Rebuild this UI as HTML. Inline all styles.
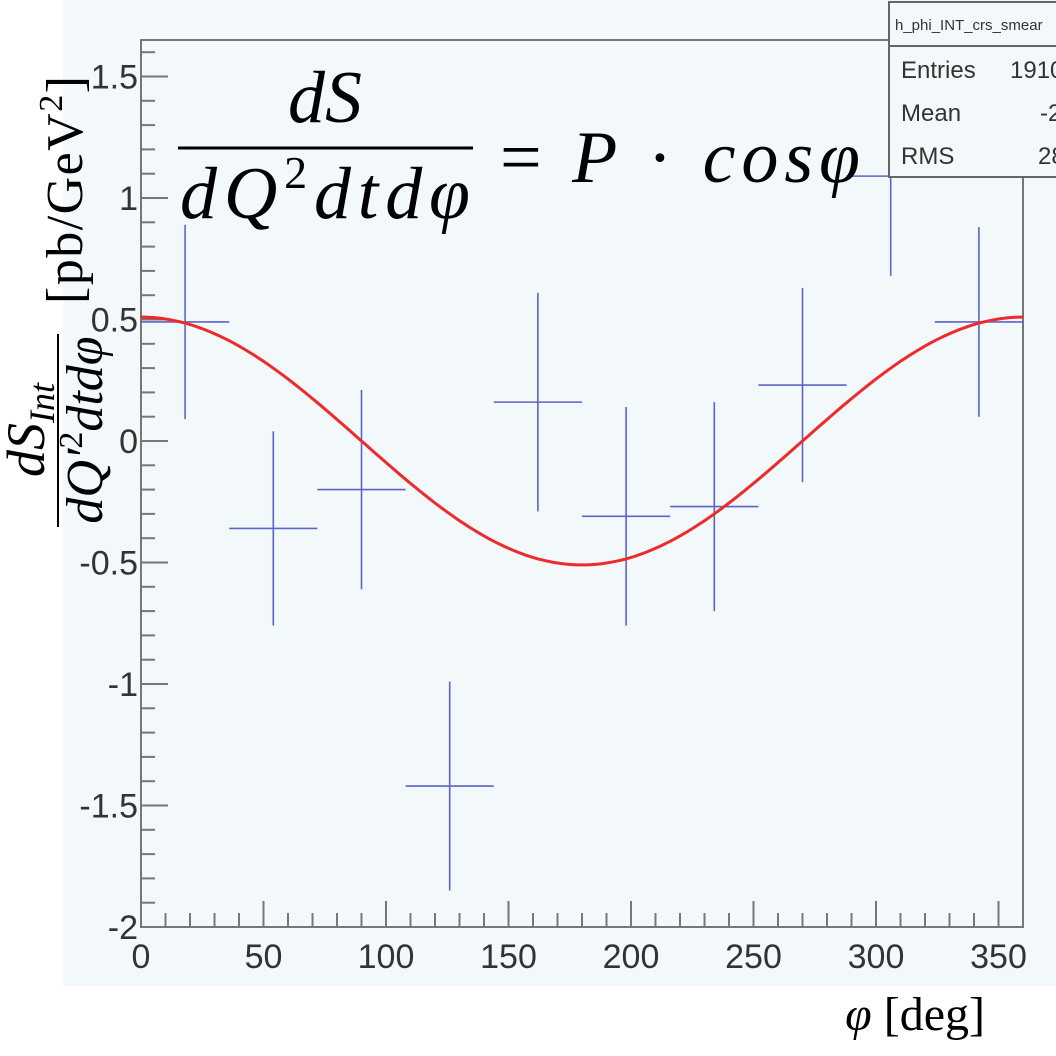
<!DOCTYPE html>
<html><head><meta charset="utf-8"><style>
html,body{margin:0;padding:0;background:#fff;width:1056px;height:1056px;overflow:hidden}
svg{display:block}
.tk{font-family:"Liberation Sans",sans-serif;font-size:34px;fill:#333}
.m{font-family:"Liberation Serif","DejaVu Serif",serif;fill:#000}
</style></head><body>
<svg id="chart" width="1056" height="1056" viewBox="0 0 1056 1056">
<rect x="63" y="0" width="993" height="986" fill="#f3f8fb"/>
<rect x="141" y="40" width="882" height="887" fill="none" stroke="#777" stroke-width="2"/>
<g id="axes"></g>
<g id="marks"></g>
<g>
<rect x="889" y="2" width="170" height="175" fill="#f3f8fb" stroke="#666" stroke-width="2"/>
<line x1="889" y1="46" x2="1056" y2="46" stroke="#666" stroke-width="2"/>
<text x="895" y="30" font-family="Liberation Sans,sans-serif" font-size="15" fill="#333">h_phi_INT_crs_smear</text>
<text x="901" y="78" font-family="Liberation Sans,sans-serif" font-size="24" fill="#333">Entries</text>
<text x="1010" y="78" font-family="Liberation Sans,sans-serif" font-size="24" fill="#333">1910</text>
<text x="901" y="121" font-family="Liberation Sans,sans-serif" font-size="24" fill="#333">Mean</text>
<text x="1040" y="121" font-family="Liberation Sans,sans-serif" font-size="24" fill="#333">-2</text>
<text x="901" y="164" font-family="Liberation Sans,sans-serif" font-size="24" fill="#333">RMS</text>
<text x="1038" y="164" font-family="Liberation Sans,sans-serif" font-size="24" fill="#333">28</text>
</g>
<g>
<text x="325" y="122" text-anchor="middle" class="m" font-size="74" font-style="italic">dS</text>
<line x1="178" y1="148" x2="473" y2="148" stroke="#000" stroke-width="3"/>
<text x="325" y="218" text-anchor="middle" class="m" font-size="74" font-style="italic" textLength="290">dQ<tspan font-size="46" dy="-30" font-style="normal">2</tspan><tspan dy="30">dtdφ</tspan></text>
<text x="500" y="182" class="m" font-size="74" textLength="360">= <tspan font-style="italic">P</tspan> · <tspan font-style="italic">cosφ</tspan></text>
</g>
<g>
<text transform="translate(44,430) rotate(-90)" text-anchor="middle" class="m" font-size="54" font-style="italic">dS<tspan font-size="36" dy="10">Int</tspan></text>
<line x1="58" y1="334" x2="58" y2="527" stroke="#000" stroke-width="2"/>
<text transform="translate(102,430) rotate(-90)" text-anchor="middle" class="m" font-size="52" font-style="italic">dQ′<tspan font-size="34" dy="-20" font-style="normal">2</tspan><tspan dy="20">dtdφ</tspan></text>
<text transform="translate(82,190) rotate(-90)" text-anchor="middle" class="m" font-size="52" textLength="228">[pb/GeV<tspan font-size="34" dy="-20">2</tspan><tspan dy="20">]</tspan></text>
</g>
<text x="985" y="1030" text-anchor="end" class="m" font-size="48"><tspan font-style="italic">φ</tspan> [deg]</text>
</svg>
<script>
const binCenters=[18,54,90,126,162,198,234,270,306,342];
const binValues=[0.49,-0.36,-0.20,-1.42,0.16,-0.31,-0.27,0.23,1.09,0.49];
const binErrors=[0.40,0.40,0.41,0.43,0.45,0.45,0.43,0.40,0.41,0.39];
const binHalfWidth=[18,18,18,18,18,18,18,18,18,18];
const fitAmplitude=[0.51];
const xTicks=[0,50,100,150,200,250,300,350];
const yTicks=[-2,-1.5,-1,-0.5,0,0.5,1,1.5];
const yTickLabels=["-2","-1.5","-1","-0.5","0","0.5","1","1.5"];
const X0=141,X1=1023,Y0=927,Y1=40,xmin=0,xmax=360;
function sx(v){return X0+(v-xmin)/(xmax-xmin)*(X1-X0);}
function sy(v){return 441-243*v;}
const NS="http://www.w3.org/2000/svg";
function mk(tag,at,parent){const e=document.createElementNS(NS,tag);for(const k in at)e.setAttribute(k,at[k]);parent.appendChild(e);return e;}
const axes=document.getElementById('axes'),marks=document.getElementById('marks');
for(let v=0;v<=360;v+=10){const major=v%50===0;const t=mk('line',{x1:sx(v),x2:sx(v),y1:Y0,y2:Y0-(major?26:14),stroke:'#777','stroke-width':2},axes);

}
xTicks.forEach(v=>{const t=mk('text',{x:sx(v),y:Y0+41,'text-anchor':'middle',class:'tk'},axes);t.textContent=v;

});
for(let i=-20;i<=16;i++){const v=i/10;const major=i%5===0;const t=mk('line',{x1:X0,x2:X0+(major?27:14),y1:sy(v),y2:sy(v),stroke:'#777','stroke-width':2},axes);

}
yTicks.forEach((v,i)=>{const t=mk('text',{x:X0-3,y:sy(v)+12,'text-anchor':'end',class:'tk'},axes);t.textContent=yTickLabels[i];

});
binCenters.forEach((c,i)=>{const g=mk('g',{},marks);


mk('line',{x1:sx(c-binHalfWidth[i]),x2:sx(c+binHalfWidth[i]),y1:sy(binValues[i]),y2:sy(binValues[i]),stroke:'#5b64c8','stroke-width':1.6},g);
mk('line',{x1:sx(c),x2:sx(c),y1:sy(binValues[i]-binErrors[i]),y2:sy(binValues[i]+binErrors[i]),stroke:'#5b64c8','stroke-width':1.6},g);});
let d='';for(let p=0;p<=360;p+=2){d+=(p?'L':'M')+sx(p).toFixed(1)+','+sy(fitAmplitude[0]*Math.cos(p*Math.PI/180)).toFixed(1);}
const fit=mk('path',{d:d,fill:'none',stroke:'#ee2a2a','stroke-width':3},marks);


</script>
</body></html>
